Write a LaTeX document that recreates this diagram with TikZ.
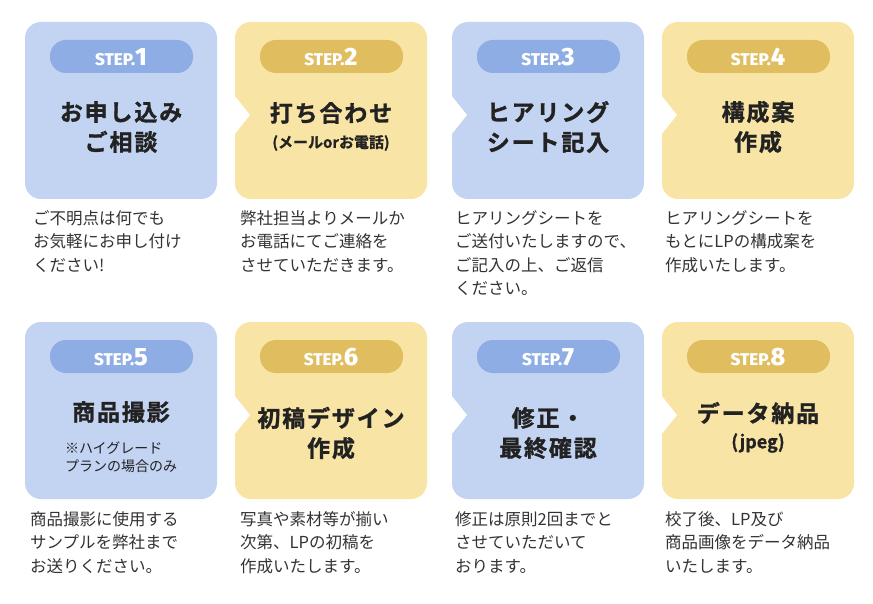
\documentclass[tikz,border=0pt]{standalone}
\usepackage{fontspec}
\setmainfont{Noto Sans CJK JP}
\newfontfamily\jpb[LetterSpace=8,FakeBold=1.2]{Noto Sans CJK JP Bold}
\newfontfamily\jpbs[FakeBold=1]{Noto Sans CJK JP Bold}
\newfontfamily\stepf{Fira Sans ExtraBold}
\definecolor{bbox}{HTML}{C3D3F2}
\definecolor{bpill}{HTML}{8EADE4}
\definecolor{ybox}{HTML}{F8E4A4}
\definecolor{ypill}{HTML}{E0BE60}
\definecolor{txt}{HTML}{222222}
\definecolor{dtxt}{HTML}{333333}
\begin{document}
\begin{tikzpicture}[x=1pt,y=-1pt,
  card/.style={rounded corners=16pt},
  pill/.style={rounded corners=16pt},
  ttl/.style={font=\jpb\fontsize{23}{30}\selectfont,align=center,text=txt},
  sub/.style={font=\jpbs\fontsize{15}{18}\selectfont,align=center,text=txt},
  note/.style={font=\fontsize{14}{18}\selectfont,align=left,text=txt},
  desc/.style={font=\fontsize{16.5}{23.5}\selectfont,align=left,anchor=north west,text=dtxt,inner sep=0pt},
  steptxt/.style={text=white,font=\stepf}]
\useasboundingbox (0,0) rectangle (873,604);
\fill[white] (0,0) rectangle (873,604);
\newcommand\card[6]{% x y boxcol pillcol num notch
  \fill[#3,card] (#1,#2) rectangle ++(192,177);
  \ifnum#6=1 \fill[white] (#1-1,#2+73) -- (#1+15,#2+93) -- (#1-1,#2+113) -- cycle;\fi
  \fill[#4,pill] (#1+25,#2+18) rectangle ++(143,33);
  \node[steptxt] (s#5) at (#1+96,#2+35) {\fontsize{17}{17}\selectfont STEP.\fontsize{25}{25}\selectfont #5};
}
\card{25}{22}{bbox}{bpill}{1}{0}
\card{235}{22}{ybox}{ypill}{2}{1}
\card{452}{22}{bbox}{bpill}{3}{1}
\card{662}{22}{ybox}{ypill}{4}{1}
\card{25}{322}{bbox}{bpill}{5}{0}
\card{235}{322}{ybox}{ypill}{6}{1}
\card{452}{322}{bbox}{bpill}{7}{1}
\card{662}{322}{ybox}{ypill}{8}{1}
\node[ttl] (t1) at (121,127) {お申し込み\\ご相談};
\node[ttl] (t2) at (331,113) {打ち合わせ};
\node[sub] (u2) at (331,143) {(メールorお電話)};
\node[ttl] (t3) at (548,127) {ヒアリング\\シート記入};
\node[ttl] (t4) at (758,127) {構成案\\作成};
\node[ttl] (t5) at (121,412) {商品撮影};
\node[note] (u5) at (121,457) {※ハイグレード\\プランの場合のみ};
\node[ttl] (t6) at (331,433) {初稿デザイン\\作成};
\node[ttl] (t7) at (548,433) {修正・\\最終確認};
\node[ttl] (t8) at (758,413) {データ納品};
\node[sub,font=\jpbs\fontsize{18}{20}\selectfont] (u8) at (758,443) {(jpeg)};
\node[desc] (d1) at (33,210) {ご不明点は何でも\\お気軽にお申し付け\\ください!};
\node[desc] (d2) at (240,210) {弊社担当よりメールか\\お電話にてご連絡を\\させていただきます。};
\node[desc] (d3) at (455,210) {ヒアリングシートを\\ご送付いたしますので、\\ご記入の上、ご返信\\ください。};
\node[desc] (d4) at (665,210) {ヒアリングシートを\\もとにLPの構成案を\\作成いたします。};
\node[desc] (d5) at (30,511) {商品撮影に使用する\\サンプルを弊社まで\\お送りください。};
\node[desc] (d6) at (240,511) {写真や素材等が揃い\\次第、LPの初稿を\\作成いたします。};
\node[desc] (d7) at (455,511) {修正は原則2回までと\\させていただいて\\おります。};
\node[desc] (d8) at (665,511) {校了後、LP及び\\商品画像をデータ納品\\いたします。};
\end{tikzpicture}
\end{document}
